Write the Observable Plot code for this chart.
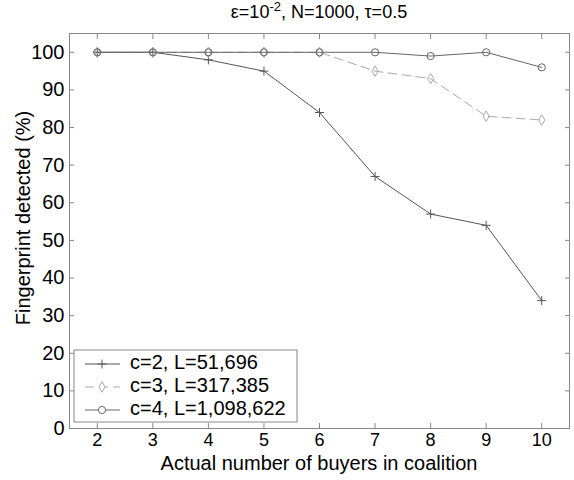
<!DOCTYPE html>
<html><head><meta charset="utf-8">
<script src="https://cdn.jsdelivr.net/npm/d3@7"></script>
<script src="https://cdn.jsdelivr.net/npm/@observablehq/plot@0.6"></script>
<style>body{margin:0;background:#fff} svg{font-family:"Liberation Sans",Arial,sans-serif}</style>
</head><body><div id="chart"></div>
<script>
// ---- data ----
const buyers = [2, 3, 4, 5, 6, 7, 8, 9, 10];
const c2 = [100, 100, 98, 95, 84, 67, 57, 54, 34];
const c3 = [100, 100, 100, 100, 100, 95, 93, 83, 82];
const c4 = [100, 100, 100, 100, 100, 100, 99, 100, 96];
const seriesNames = ["c=2, L=51,696", "c=3, L=317,385", "c=4, L=1,098,622"];
const yTicks = [0, 10, 20, 30, 40, 50, 60, 70, 80, 90, 100];
const titleMain = "ε=10", titleSup = "-2", titleRest = ", N=1000, τ=0.5";
const xTitle = "Actual number of buyers in coalition";
const yTitle = "Fingerprint detected (%)";

// ---- styles ----
const styles = [
  {stroke: "#555", dash: null, symbol: "plus", r: 3},
  {stroke: "#aaa", dash: "9,5", symbol: "diamond", r: 3.2},
  {stroke: "#666", dash: null, symbol: "circle", r: 3.6}
];
const values = [c2, c3, c4];
const series = seriesNames.map((name, i) => ({
  name, style: styles[i],
  data: buyers.map((b, j) => ({x: b, y: values[i][j]}))
}));

const W = 574, H = 480, ML = 69, MR = 5, MT = 33, MB = 52;
const axisColor = "#888";

const marks = [
  Plot.frame({stroke: axisColor}),
  Plot.axisX({ticks: buyers, anchor: "bottom", tickSize: -5, text: null, label: null, stroke: axisColor}),
  Plot.axisX({ticks: buyers, anchor: "top", tickSize: -5, text: null, label: null, stroke: axisColor}),
  Plot.axisY({ticks: yTicks, anchor: "left", tickSize: -5, text: null, label: null, stroke: axisColor}),
  Plot.axisY({ticks: yTicks, anchor: "right", tickSize: -5, text: null, label: null, stroke: axisColor}),
  Plot.axisX({ticks: buyers, anchor: "bottom", tickSize: 0, tickPadding: 5, label: null, fontSize: 18, fill: "#000"}),
  Plot.axisY({ticks: yTicks, anchor: "left", tickSize: 0, tickPadding: 5, label: null, fontSize: 20, fill: "#000"})
];
for (const s of series) {
  marks.push(Plot.line(s.data, {x: "x", y: "y", stroke: s.style.stroke, strokeWidth: 1, strokeDasharray: s.style.dash}));
  marks.push(Plot.dot(s.data, {x: "x", y: "y", symbol: () => s.style.symbol, r: s.style.r, stroke: s.style.stroke, fill: "none", strokeWidth: 1}));
}

const plot = Plot.plot({
  width: W, height: H,
  marginLeft: ML, marginRight: MR, marginTop: MT, marginBottom: MB,
  style: {fontFamily: '"Liberation Sans", Arial, sans-serif', fontSize: "20px", color: "#000", background: "#fff"},
  x: {domain: [1.5, 10.5], label: null},
  y: {domain: [0, 105], label: null},
  symbol: {type: "identity"},
  marks
});

const svg = d3.select(plot);
const font = '"Liberation Sans", Arial, sans-serif';
// title
const t = svg.append("text").attr("x", (ML + W - MR) / 2).attr("y", 18)
  .attr("text-anchor", "middle").attr("font-size", 18).attr("font-family", font).attr("fill", "#000");
t.append("tspan").text(titleMain);
t.append("tspan").attr("dy", -7).attr("font-size", 13).text(titleSup);
t.append("tspan").attr("dy", 7).text(titleRest);
// x title
svg.append("text").attr("x", (ML + W - MR) / 2).attr("y", 470)
  .attr("text-anchor", "middle").attr("font-size", 20).attr("font-family", font).attr("fill", "#000").text(xTitle);
// y title
svg.append("text").attr("transform", "translate(25,218) rotate(-90)")
  .attr("text-anchor", "middle").attr("dominant-baseline", "middle")
  .attr("font-size", 20).attr("font-family", font).attr("fill", "#000").text(yTitle);

// legend
const lg = svg.append("g").attr("text-anchor", "start");
lg.append("rect").attr("x", 74).attr("y", 350).attr("width", 223).attr("height", 72)
  .attr("fill", "#fff").attr("stroke", axisColor);
series.forEach((s, i) => {
  const cy = 364 + i * 23;
  lg.append("line").attr("x1", 85).attr("x2", 120).attr("y1", cy).attr("y2", cy)
    .attr("stroke", s.style.stroke).attr("stroke-dasharray", s.style.dash);
  const sym = {plus: d3.symbolPlus, diamond: d3.symbolDiamond, circle: d3.symbolCircle}[s.style.symbol];
  lg.append("path").attr("transform", `translate(102,${cy})`)
    .attr("d", d3.symbol(sym, Math.PI * s.style.r * s.style.r)())
    .attr("fill", s.style.symbol === "plus" ? "none" : "#fff").attr("stroke", s.style.stroke);
  lg.append("text").attr("x", 130).attr("y", cy).attr("dominant-baseline", "middle")
    .attr("text-anchor", "start")
    .attr("font-size", 20).attr("font-family", font).attr("fill", "#000").text(s.name);
});

document.getElementById("chart").appendChild(plot);
</script></body></html>
